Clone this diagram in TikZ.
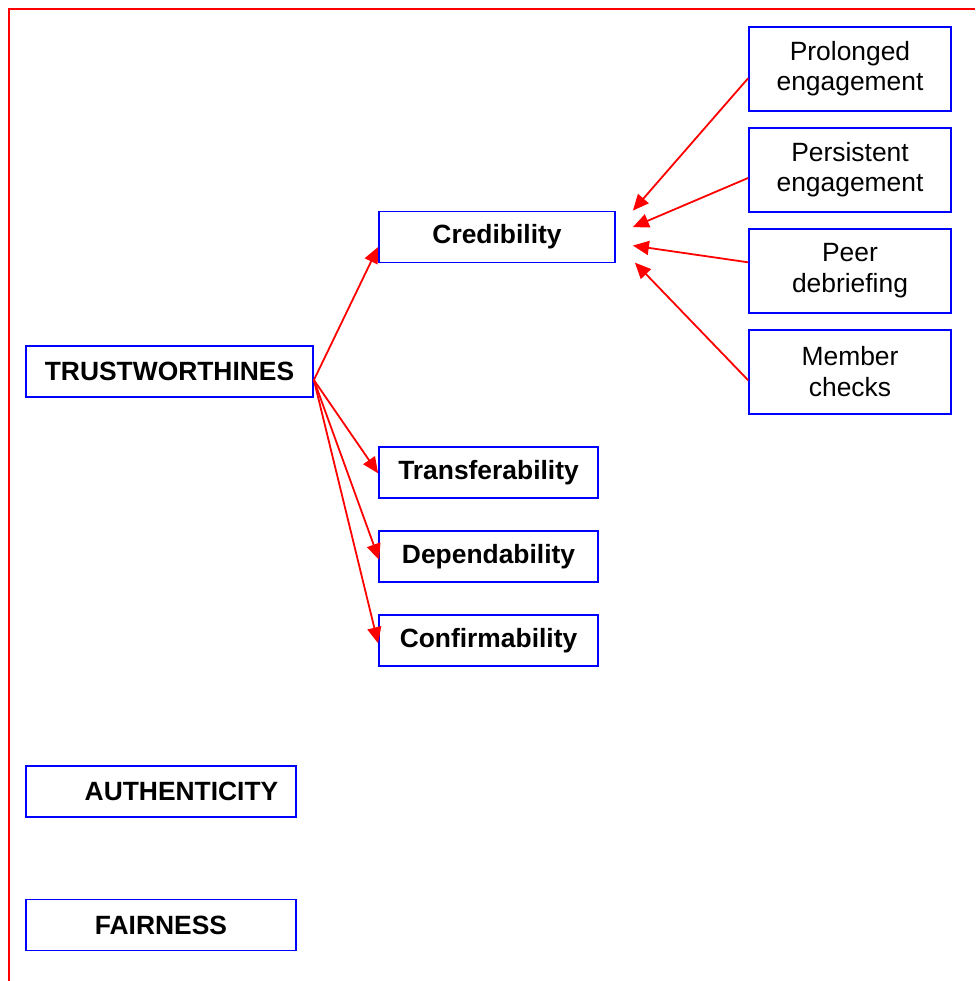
\documentclass[tikz,border=0pt]{standalone}
\usepackage{fontspec}
\setmainfont{Liberation Sans}
\usetikzlibrary{arrows.meta,positioning,calc}

\begin{document}
\begin{tikzpicture}[x=1pt,y=-1pt,>={Triangle[length=16pt,width=14pt]},
  box/.style={draw=blue,line width=1.8pt,inner sep=0pt,align=center,
    font=\fontsize{26.4}{30.4}\selectfont},
  mainbox/.style={box,minimum width=270pt,minimum height=51pt,
    font=\fontsize{26.4}{30.4}\selectfont\bfseries},
  subbox/.style={box,minimum width=219pt,minimum height=51pt,
    font=\fontsize{26.4}{30.4}\selectfont\bfseries},
  techbox/.style={box,minimum width=202pt,minimum height=84pt},
  link/.style={->,red,line width=1.8pt}]
  \useasboundingbox (0,0) rectangle (975,981);
  \draw[red,line width=2pt] (9,981) -- (9,9) -- (975,9);

  % criteria
  \node[mainbox,minimum width=287pt] (trust) at (169.5,371.5) {TRUSTWORTHINES};
  \node[mainbox] (auth) at (161,791.5) {\hspace*{41pt}AUTHENTICITY};
  \node[mainbox] (fair) at (161,925) {FAIRNESS};

  % trustworthiness parts
  \node[subbox,minimum width=236pt] (cred) at (497,237) {Credibility};
  \node[subbox] (trans) at (488.5,472.3) {Transferability};
  \node[subbox] (dep) [below=31.2pt of trans] {Dependability};
  \node[subbox] (conf) [below=31.2pt of dep] {Confirmability};

  % credibility techniques
  \node[techbox] (prol) at (850,68.7) {Prolonged\\engagement};
  \node[techbox] (pers) [below=15.2pt of prol] {Persistent\\engagement};
  \node[techbox] (peer) [below=15.2pt of pers] {Peer\\debriefing};
  \node[techbox] (memb) [below=15.2pt of peer] {Member\\checks};

  \coordinate (t0) at ($(trust.east)+(0,8.5)$);
  \coordinate (t1) at ($(cred.west)+(0,10)$);
  \coordinate (t2) at ($(trans.west)+(0,1)$);
  \coordinate (t3) at ($(dep.west)+(1,3.5)$);
  \coordinate (t4) at ($(conf.west)+(0,3)$);
  \path[link] (t0) edge (t1)
                   edge (t2)
                   edge (t3)
                   edge (t4);

  \coordinate (p1) at ($(prol.west)+(0,9.6)$);
  \coordinate (p2) at ($(pers.west)+(0,8.3)$);
  \coordinate (p3) at ($(peer.west)+(0,-8.4)$);
  \coordinate (p4) at ($(memb.west)+(0,8.5)$);
  \coordinate (c1) at ($(cred.north east)+(17,0)$);
  \coordinate (c2) at ($(cred.north east)+(17,16.5)$);
  \coordinate (c3) at ($(cred.north east)+(17,35)$);
  \coordinate (c4) at ($(cred.north east)+(19,52)$);
  \path[link] (p1) edge (c1)
              (p2) edge (c2)
              (p3) edge (c3)
              (p4) edge (c4);
\end{tikzpicture}
\end{document}
